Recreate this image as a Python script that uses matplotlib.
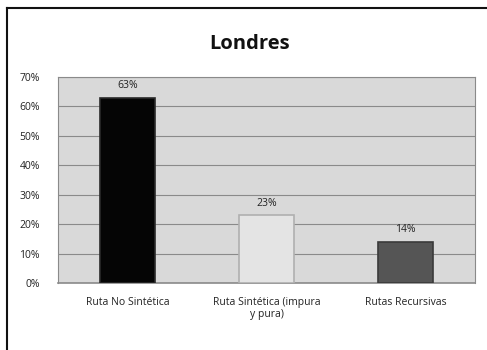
import matplotlib.pyplot as plt
import numpy as np
from matplotlib.lines import Line2D
from matplotlib.ticker import FuncFormatter

# Datos
categorias = ['Ruta No Sintética', 'Ruta Sintética (impura\ny pura)', 'Rutas Recursivas']
valores = [63, 23, 14]
colores = ['#050505', '#e4e4e4', '#555555']
bordes = ['#2a2a2a', '#b0b0b0', '#3a3a3a']

plt.rcParams['font.family'] = ['Open Sans', 'DejaVu Sans']

fig = plt.figure(figsize=(4.87, 3.5), dpi=100)
ax = fig.add_axes([58 / 487, 1 - 283 / 350, (475 - 58) / 487, (283 - 77) / 350])

x = np.arange(len(categorias))
barras = ax.bar(x, valores, width=0.4, color=colores, edgecolor=bordes, linewidth=1.2, zorder=3)

for b, v in zip(barras, valores):
    ax.text(b.get_x() + b.get_width() / 2, v + 2.2, f'{v}%', ha='center', va='bottom',
            fontsize=7.5, color='#222222')

ax.set_xlim(-0.5, 2.5)
ax.set_ylim(0, 70)
ax.set_yticks(range(0, 71, 10))
ax.yaxis.set_major_formatter(FuncFormatter(lambda v, p: f'{int(v)}%'))
ax.set_xticks(x)
ax.set_xticklabels(categorias, fontsize=7.5, color='#222222')
ax.tick_params(axis='y', labelsize=7.5, colors='#222222', length=0, pad=13)
ax.tick_params(axis='x', length=0, pad=10)

ax.set_facecolor('#d9d9d9')
ax.grid(axis='y', color='#8a8a8a', linewidth=0.8, zorder=0)
for lado in ['top', 'right', 'left']:
    ax.spines[lado].set_color('#8a8a8a')
    ax.spines[lado].set_linewidth(0.8)
ax.spines['bottom'].set_color('#8a8a8a')
ax.spines['bottom'].set_linewidth(1.2)

fig.text(250 / 487, 1 - 44 / 350, 'Londres', ha='center', va='center', fontsize=14.5,
         fontweight='bold', color='#111111')

# marco exterior (solo arriba e izquierda visibles)
fig.add_artist(Line2D([7 / 487, 1], [1 - 8 / 350, 1 - 8 / 350], color='#111111', linewidth=1.5,
                      transform=fig.transFigure))
fig.add_artist(Line2D([7 / 487, 7 / 487], [0, 1 - 8 / 350], color='#111111', linewidth=1.5,
                      transform=fig.transFigure))

fig.savefig('out.png', dpi=100)
